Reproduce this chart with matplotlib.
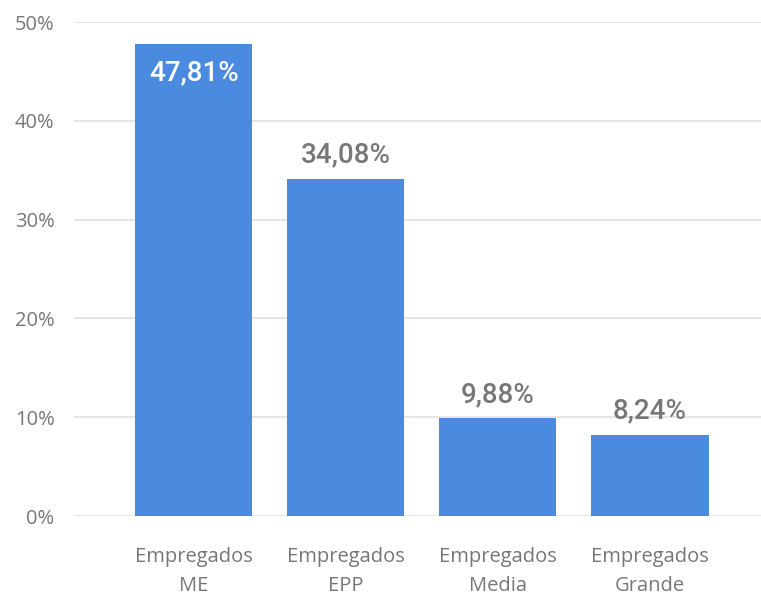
import matplotlib.pyplot as plt
from matplotlib.ticker import FuncFormatter

categories = ["Empregados\nME", "Empregados\nEPP", "Empregados\nMedia", "Empregados\nGrande"]
values = [47.81, 34.08, 9.88, 8.24]
value_labels = ["47,81%", "34,08%", "9,88%", "8,24%"]

bar_color = "#4a8bdf"
text_gray = "#777777"

fig = plt.figure(figsize=(7.61, 5.95), dpi=100)
ax = fig.add_axes([74 / 761, 1 - 516 / 595, (761 - 74) / 761, (516 - 22) / 595])

x = list(range(len(values)))
ax.bar(x, values, width=0.77, color=bar_color, zorder=2)

ax.set_xlim(-0.786, 3.73)
ax.set_ylim(0, 50)
ax.set_yticks([0, 10, 20, 30, 40, 50])
ax.yaxis.set_major_formatter(FuncFormatter(lambda v, p: f"{int(v)}%"))
ax.grid(axis="y", color="#e3e3e3", linewidth=1.3, zorder=0)
ax.set_axisbelow(True)
for s in ax.spines.values():
    s.set_visible(False)
ax.tick_params(length=0, labelsize=14.5, labelcolor=text_gray)
ax.tick_params(axis="y", pad=14)
ax.tick_params(axis="x", pad=22)
ax.set_xticks(x)
ax.set_xticklabels(categories, family="Open Sans", linespacing=1.6)
for t in ax.get_yticklabels():
    t.set_family("Open Sans")

for i, (v, lab) in enumerate(zip(values, value_labels)):
    if i == 0:
        ax.annotate(lab, (i, v), xytext=(0, -29), textcoords="offset pixels",
                    ha="center", va="center", color="white", fontsize=20,
                    family="Roboto", weight="medium")
    else:
        ax.annotate(lab, (i, v), xytext=(0, 24), textcoords="offset pixels",
                    ha="center", va="center", color=text_gray, fontsize=20,
                    family="Roboto", weight="medium")

fig.savefig("out.png", dpi=100)
